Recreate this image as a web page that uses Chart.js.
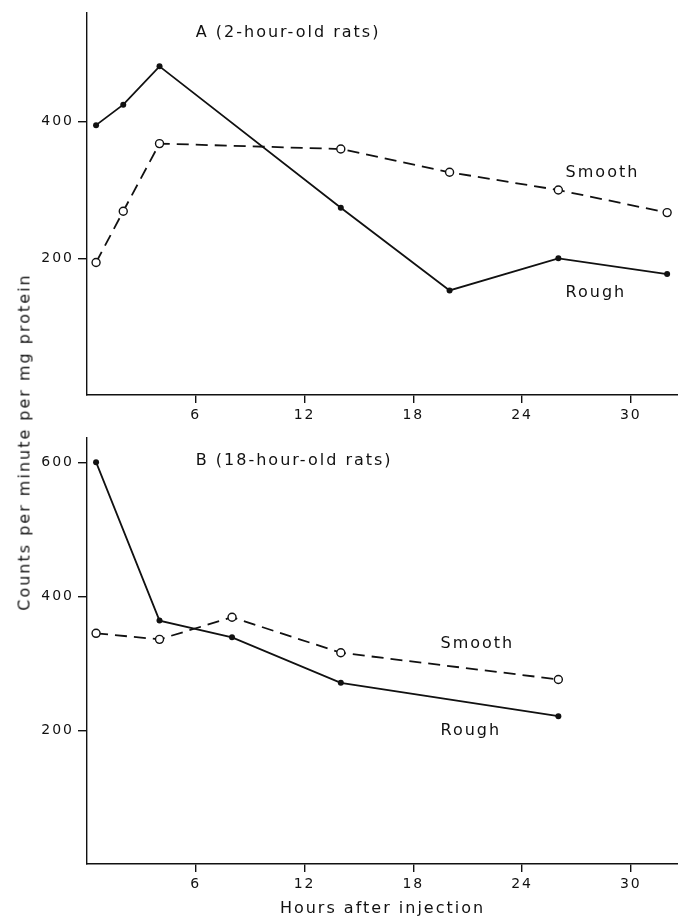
<!DOCTYPE html>
<html>
<head>
<meta charset="utf-8">
<script src="https://cdn.jsdelivr.net/npm/chart.js@4.4.1/dist/chart.umd.min.js"></script>
<style>
  html, body { margin: 0; padding: 0; background: #fff; }
  #page { position: relative; width: 678px; height: 920px; overflow: hidden; }
  .panel { position: absolute; left: 0; width: 678px; }
  #yTitle {
    position: absolute; left: 24px; top: 442px;
    transform: translate(-50%, -50%) rotate(-90deg);
    white-space: nowrap; font: 16px "DejaVu Sans", sans-serif;
    letter-spacing: 2px; color: #111;
  }
</style>
</head>
<body>
<div id="page">
  <div class="panel" style="top:0;height:425px"><canvas id="chartA" width="678" height="425"></canvas></div>
  <div class="panel" style="top:425px;height:495px"><canvas id="chartB" width="678" height="495"></canvas></div>
  <div id="yTitle">Counts per minute per mg protein</div>
</div>
<script>
// Panel A: 2-hour-old rats
const hoursA = [0.5, 2, 4, 14, 20, 26, 32];
const roughA = [395, 425, 481, 274, 153, 200, 177];
const smoothA = [194, 269, 368, 360, 326, 300, 267];

// Panel B: 18-hour-old rats
const hoursB = [0.5, 4, 8, 14, 26];
const roughB = [601, 364, 339, 271, 221];
const smoothB = [345, 336, 369, 316, 276];

// Tick labels
const xTicks = [6, 12, 18, 24, 30];
const yTicksA = [200, 400];
const yTicksB = [200, 400, 600];

const INK = '#111';
Chart.defaults.font.family = '"DejaVu Sans", sans-serif';
Chart.defaults.color = INK;

const toPoints = (xs, ys) => xs.map((x, i) => ({ x, y: ys[i] }));

// draws panel titles and series names at data coordinates
const panelText = {
    id: 'panelText',
    beforeDraw(chart) {
        chart.ctx.letterSpacing = '2px';
    },
    afterDatasetsDraw(chart, args, opts) {
        const { ctx, scales } = chart;
        ctx.save();
        ctx.letterSpacing = '2px';
        ctx.font = '16px "DejaVu Sans", sans-serif';
        ctx.fillStyle = INK;
        ctx.textAlign = 'left';
        ctx.textBaseline = 'middle';
        (opts.items || []).forEach(it => {
            ctx.fillText(it.text, scales.x.getPixelForValue(it.x), scales.y.getPixelForValue(it.y));
        });
        ctx.restore();
    }
};

function makeChart(id, hours, rough, smooth, yMax, yTicks, padTop, xHeight, items, xTitle) {
    const ctx = document.getElementById(id).getContext('2d');
    return new Chart(ctx, {
        type: 'line',
        data: {
            datasets: [{
                label: 'Rough',
                data: toPoints(hours, rough),
                borderColor: INK,
                borderWidth: 1.8,
                pointRadius: 3,
                pointBackgroundColor: INK,
                pointBorderColor: INK,
                pointBorderWidth: 0,
                tension: 0
            }, {
                label: 'Smooth',
                data: toPoints(hours, smooth),
                borderColor: INK,
                borderWidth: 1.8,
                borderDash: [12, 7],
                pointRadius: 4,
                pointBackgroundColor: '#fff',
                pointBorderColor: INK,
                pointBorderWidth: 1.4,
                tension: 0
            }]
        },
        options: {
            responsive: false,
            animation: false,
            devicePixelRatio: 1,
            layout: { autoPadding: false, padding: { top: padTop, left: 0, right: 0, bottom: 0 } },
            plugins: {
                legend: { display: false },
                tooltip: { enabled: false },
                panelText: { items }
            },
            scales: {
                x: {
                    type: 'linear',
                    min: 0,
                    max: 32.6,
                    afterBuildTicks: s => { s.ticks = xTicks.map(v => ({ value: v })); },
                    afterFit: s => { s.height = xHeight; },
                    grid: { drawOnChartArea: false, drawTicks: true, tickLength: 8, color: INK, lineWidth: 1.4 },
                    border: { display: true, color: INK, width: 1.4 },
                    ticks: { font: { size: 14 }, padding: 4, maxRotation: 0, autoSkip: false },
                    title: {
                        display: !!xTitle,
                        text: xTitle || '',
                        font: { size: 16 },
                        padding: { top: 0, bottom: 2 }
                    }
                },
                y: {
                    type: 'linear',
                    min: 0,
                    max: yMax,
                    afterBuildTicks: s => { s.ticks = yTicks.map(v => ({ value: v })); },
                    afterFit: s => { s.width = 87; },
                    grid: { drawOnChartArea: false, drawTicks: true, tickLength: 9, color: INK, lineWidth: 1.4 },
                    border: { display: true, color: INK, width: 1.4 },
                    ticks: { font: { size: 14 }, padding: 4, autoSkip: false }
                }
            }
        },
        plugins: [panelText]
    });
}

makeChart('chartA', hoursA, roughA, smoothA, 560, yTicksA, 12, 30, [
    { text: 'A (2-hour-old rats)', x: 6, y: 530 },
    { text: 'Smooth', x: 26.4, y: 325 },
    { text: 'Rough', x: 26.4, y: 150 }
]);

makeChart('chartB', hoursB, roughB, smoothB, 638, yTicksB, 5, 56, [
    { text: 'B (18-hour-old rats)', x: 6, y: 603 },
    { text: 'Smooth', x: 19.5, y: 330 },
    { text: 'Rough', x: 19.5, y: 199 }
], 'Hours after injection');
</script>
</body>
</html>
